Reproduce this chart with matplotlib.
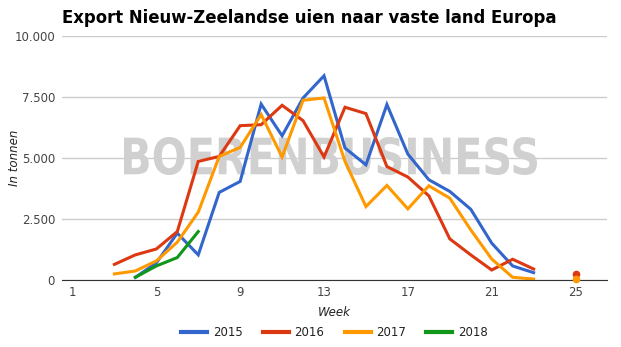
import numpy as np
import matplotlib
matplotlib.use("Agg")
import matplotlib.pyplot as plt
from matplotlib.ticker import FuncFormatter
from matplotlib.textpath import TextPath
from matplotlib.patches import PathPatch
from matplotlib.font_manager import FontProperties
from matplotlib.transforms import Affine2D

nan = np.nan

# weeks 1..26, export in tonnen
weeks = np.arange(1, 27)
v2015 = [nan, nan, nan, 110, 700, 1920, 1030, 3590, 4040, 7210, 5910, 7460, 8370,
         5410, 4720, 7190, 5160, 4110, 3630, 2900, 1510, 575, 300, nan, nan, nan]
v2016 = [nan, nan, 640, 1030, 1270, 1985, 4860, 5065, 6325, 6365, 7160, 6530, 5040,
         7080, 6820, 4650, 4220, 3450, 1685, 1030, 410, 850, 450, nan, 250, nan]
v2017 = [nan, nan, 250, 370, 780, 1550, 2780, 5065, 5435, 6780, 5040, 7365, 7460,
         4860, 3010, 3875, 2915, 3860, 3355, 2055, 860, 110, 40, nan, 40, nan]
v2018 = [nan, nan, nan, 110, 575, 920, 1985, nan, nan, nan, nan, nan, nan,
         nan, nan, nan, nan, nan, nan, nan, nan, nan, nan, nan, nan, nan]

series = [("2015", v2015, "#3366cc"),
          ("2016", v2016, "#dc3912"),
          ("2017", v2017, "#ff9900"),
          ("2018", v2018, "#109618")]

xticks = [1, 5, 9, 13, 17, 21, 25]
yticks = [0, 2500, 5000, 7500, 10000]

W, H = 621, 347
fig = plt.figure(figsize=(W / 100, H / 100), dpi=100)
ax = fig.add_axes([62 / W, 1 - 280 / H, (607 - 62) / W, (280 - 36) / H])

for name, vals, color in series:
    ax.plot(weeks, vals, color=color, lw=2.2, label=name, zorder=3,
            solid_joinstyle="miter")
    # isolated points (no neighbours) get a dot, like the original
    arr = np.array(vals, dtype=float)
    for i, v in enumerate(arr):
        prev_nan = i == 0 or np.isnan(arr[i - 1])
        next_nan = i == len(arr) - 1 or np.isnan(arr[i + 1])
        if not np.isnan(v) and prev_nan and next_nan:
            ax.plot(weeks[i], v, "o", color=color, ms=4.5, zorder=6, clip_on=False)

ax.set_xlim(0.5, 26.5)
ax.set_ylim(0, 10000)
ax.set_xticks(xticks)
ax.set_yticks(yticks)
ax.yaxis.set_major_formatter(FuncFormatter(lambda v, p: f"{int(v):,}".replace(",", ".")))
ax.tick_params(length=0, labelsize=8.5, colors="#444444", pad=5)
ax.tick_params(axis="x", pad=4)
ax.grid(axis="y", color="#cccccc", lw=1)
ax.set_axisbelow(True)
for s in ["top", "right", "left"]:
    ax.spines[s].set_visible(False)
ax.spines["bottom"].set_color("#333333")
ax.spines["bottom"].set_zorder(5)

# watermark, squeezed into its box (pixels: x 124-537, y 137-175 from top)
tp = TextPath((0, 0), "BOERENBUSINESS", size=1,
              prop=FontProperties(family="DejaVu Sans", weight="bold"))
bb = tp.get_extents()
x0, x1, y0, y1 = 124 / W, 537 / W, 1 - 175 / H, 1 - 137 / H
tr = (Affine2D().translate(-bb.x0, -bb.y0)
      .scale((x1 - x0) / bb.width, (y1 - y0) / bb.height)
      .translate(x0, y0) + fig.transFigure)
ax.add_patch(PathPatch(tp, transform=tr, facecolor="#d0d0d0", lw=0,
                       zorder=1, clip_on=False))

ax.set_xlabel("Week", fontsize=8.5, style="italic", color="#222222", labelpad=5)
ax.set_ylabel("In tonnen", fontsize=8.5, style="italic", color="#222222")
ax.yaxis.set_label_coords(-0.075, 0.5)

fig.text(62 / W, 1 - 23 / H, "Export Nieuw-Zeelandse uien naar vaste land Europa",
         fontsize=11.9, fontweight="bold", color="#000000", ha="left", va="baseline")

leg = ax.legend(loc="center", bbox_to_anchor=(0.5, -0.217), ncol=4, frameon=False,
                fontsize=8.5, handlelength=2.2, columnspacing=1.7, handletextpad=0.5,
                labelcolor="#222222")
for h in leg.get_lines():
    h.set_linewidth(3)

fig.savefig("out.png", dpi=100)
